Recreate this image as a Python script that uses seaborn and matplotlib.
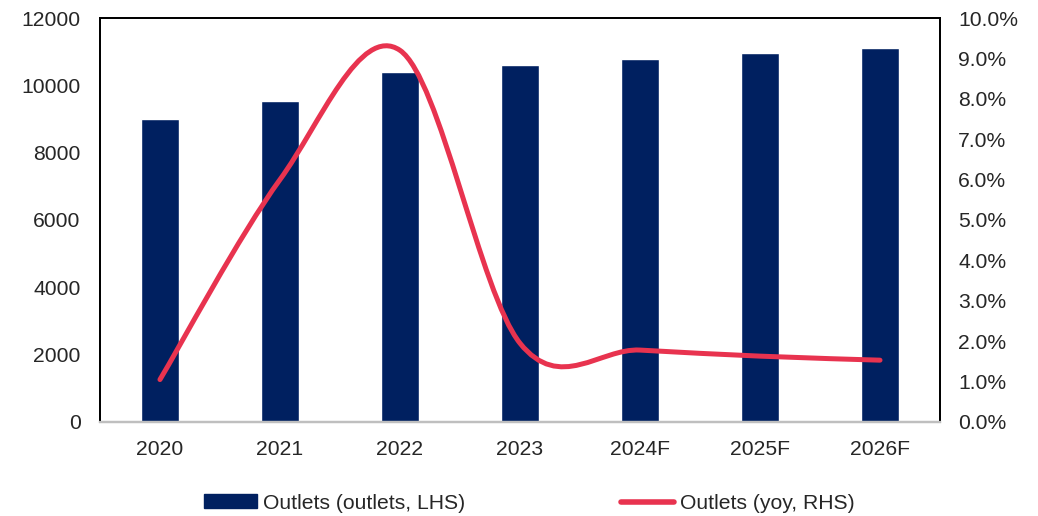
import numpy as np
import matplotlib
matplotlib.use("Agg")
import matplotlib.pyplot as plt
from matplotlib.path import Path
from matplotlib.patches import PathPatch, Patch
from matplotlib.lines import Line2D
from matplotlib.ticker import PercentFormatter
import seaborn as sns

years = ["2020", "2021", "2022", "2023", "2024F", "2025F", "2026F"]
outlets = [9000, 9520, 10400, 10600, 10790, 10950, 11110]
yoy = [1.05, 6.0, 9.2, 1.95, 1.78, 1.63, 1.53]  # percent

navy = "#002060"
red = "#E8334F"

sns.set_style("white")
plt.rcParams["font.family"] = ["Liberation Sans", "DejaVu Sans"]
fs = 15.2

fig = plt.figure(figsize=(10.38, 5.16), dpi=100)
ax = fig.add_axes([0.0963, 0.1822, 0.8093, 0.7829])
sns.barplot(x=years, y=outlets, ax=ax, color=navy, saturation=1, width=0.31)
ax.set_xlim(-0.5, len(years) - 0.5)
ax.set_ylim(0, 12000)
ax.set_yticks(range(0, 12001, 2000))
ax.set_xlabel("")
ax.set_ylabel("")
ax.tick_params(axis="both", length=0, labelsize=fs)
ax.tick_params(axis="y", pad=14)
ax.tick_params(axis="x", pad=13)

ax2 = ax.twinx()
ax2.set_ylim(0, 10)
ax2.set_yticks(np.arange(0, 10.01, 1))
ax2.yaxis.set_major_formatter(PercentFormatter(decimals=1))
ax2.tick_params(axis="y", length=0, labelsize=fs, pad=13)

# smoothed line like Excel (Catmull-Rom style bezier through the points)
xs = np.arange(len(yoy), dtype=float)
ys = np.array(yoy, dtype=float)
verts = [(xs[0], ys[0])]
codes = [Path.MOVETO]
for i in range(len(xs) - 1):
    p0 = max(i - 1, 0)
    p3 = min(i + 2, len(xs) - 1)
    c1 = (xs[i] + (xs[i + 1] - xs[p0]) / 6, ys[i] + (ys[i + 1] - ys[p0]) / 6)
    c2 = (xs[i + 1] - (xs[p3] - xs[i]) / 6, ys[i + 1] - (ys[p3] - ys[i]) / 6)
    verts += [c1, c2, (xs[i + 1], ys[i + 1])]
    codes += [Path.CURVE4] * 3
ax2.add_patch(PathPatch(Path(verts, codes), facecolor="none", edgecolor=red,
                        lw=3.6, capstyle="round", joinstyle="round"))

for a in (ax, ax2):
    for s in ("left", "top", "right"):
        a.spines[s].set_color("black")
        a.spines[s].set_linewidth(1.3)
    a.spines["bottom"].set_color("#BFBFBF")
    a.spines["bottom"].set_linewidth(1.6)

handles = [Patch(facecolor=navy, edgecolor=navy),
           Line2D([0], [0], color=red, lw=4, solid_capstyle="round")]
fig.legend(handles, ["Outlets (outlets, LHS)", "Outlets (yoy, RHS)"],
           loc="center", bbox_to_anchor=(0.51, 0.025), ncol=2, frameon=False,
           fontsize=fs, handlelength=2.5, handleheight=0.6, handletextpad=0.3,
           columnspacing=7.4)

fig.savefig("out.png", dpi=100)
